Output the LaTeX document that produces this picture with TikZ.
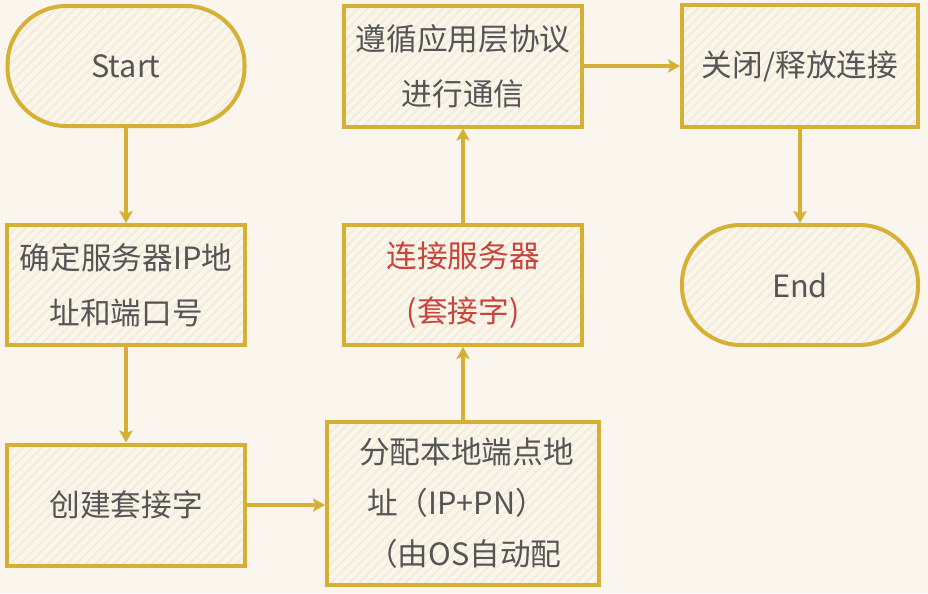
\documentclass[tikz,border=0pt]{standalone}
\usepackage{fontspec}
\setmainfont{Noto Sans CJK SC}
\usetikzlibrary{arrows.meta,patterns.meta}
\definecolor{bg}{RGB}{250,246,238}
\definecolor{gold}{RGB}{214,176,52}
\definecolor{txt}{RGB}{85,85,85}
\definecolor{redtxt}{RGB}{198,70,62}
\definecolor{hatch}{RGB}{244,237,213}
\begin{document}
\begin{tikzpicture}[x=0.75pt,y=-0.75pt,
  box/.style={draw=gold, line width=3pt,
    pattern={Lines[angle=45,distance=5pt,line width=1.6pt]}, pattern color=hatch,
    text=txt, align=center, font=\fontsize{23}{41}\selectfont, inner sep=0pt},
  term/.style={box, rounded corners=44pt},
  conn/.style={draw=gold, line width=2.4pt, -{Stealth[length=9pt,width=10pt,inset=2pt]}}]
\fill[bg] (0,0) rectangle (928,593);
\useasboundingbox (0,0) rectangle (928,593);

\node[term, minimum width=177.75pt, minimum height=90pt] (start) at (126,66) {Start};
\node[box, minimum width=178.5pt, minimum height=90pt] (box1) at (126,285) {确定服务器IP地\\址和端口号};
\node[box, minimum width=178.5pt, minimum height=90.75pt] (box2) at (126,505) {创建套接字};
\node[box, minimum width=204pt, minimum height=122.25pt, align=left, text width=156pt, inner xsep=24pt,
  font=\fontsize{23}{38.25}\selectfont] (box3) at (463,503.5) {分配本地端点地\\\hspace*{6pt}址（IP+PN）\\\hspace*{6pt}（由OS自动配};
\node[box, text=redtxt, minimum width=178.5pt, minimum height=90pt] (box4) at (463,285) {连接服务器\\(套接字)};
\node[box, minimum width=178.5pt, minimum height=90.75pt] (box5) at (463,66) {遵循应用层协议\\进行通信};
\node[box, minimum width=177pt, minimum height=91.5pt] (box6) at (800,66) {关闭/释放连接};
\node[term, minimum width=177pt, minimum height=90pt] (end) at (800,285) {End};

\draw[conn] (start) -- (box1);
\draw[conn] (box1) -- (box2);
\draw[conn] (box2.east) -- (box2.east -| box3.west);
\draw[conn] (box3) -- (box4);
\draw[conn] (box4) -- (box5);
\draw[conn] (box5) -- (box6);
\draw[conn] (box6) -- (end);
\end{tikzpicture}
\end{document}
